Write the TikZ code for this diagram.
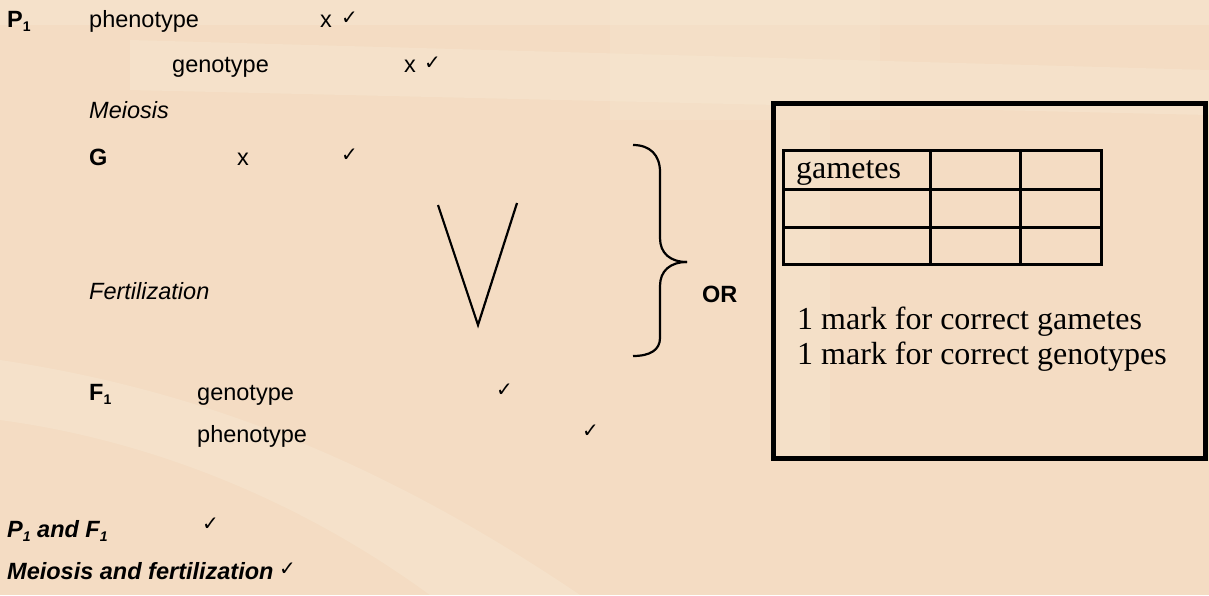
\documentclass[tikz,border=0pt]{standalone}
\usepackage{fontspec}
\setmainfont{Liberation Sans}
\newfontfamily\tms{Liberation Serif}
\newfontfamily\djv{DejaVu Sans}
\definecolor{bgpeach}{HTML}{F4DCC3}
\definecolor{bglight}{HTML}{F7EDD8}
\newcommand{\ck}{{\djv\fontsize{20}{20}\selectfont ✓}}
\newcommand{\sub}[1]{\raisebox{-4.5pt}{\fontsize{14}{14}\selectfont #1}}
\begin{document}
\begin{tikzpicture}[x=1pt,y=-1pt,
  txt/.style={anchor=base west,inner sep=0pt,font=\fontsize{23.5}{27}\selectfont},
  bt/.style={txt,font=\fontsize{23.5}{27}\selectfont\bfseries},
  it/.style={txt,font=\fontsize{23.5}{27}\selectfont\itshape},
  bit/.style={txt,font=\fontsize{23.5}{27}\selectfont\bfseries\itshape},
  tm/.style={anchor=base west,inner sep=0pt,font=\tms\fontsize{32}{36}\selectfont},
  ckn/.style={anchor=base west,inner sep=0pt},
  ln/.style={line width=2.2pt,black},
  tbl/.style={line width=3pt,black}]
\useasboundingbox (0,0) rectangle (1209,595);
% background
\fill[bgpeach] (0,0) rectangle (1209,595);
\fill[bglight,opacity=0.35] (0,0) rectangle (1209,25);
\fill[bglight,opacity=0.35] (130,40) -- (1209,70) -- (1209,115) -- (130,90) -- cycle;
\fill[bglight,opacity=0.2] (610,0) rectangle (880,120);
\fill[bglight,opacity=0.35] (0,360) .. controls (200,390) and (380,460) .. (580,595) -- (430,595) .. controls (300,500) and (150,440) .. (0,420) -- cycle;
\fill[bglight,opacity=0.25] (780,120) rectangle (830,460);
% left column texts
\node[bt] (p1) at (7,27) {P\sub{1}};
\node[txt] (pheno1) at (89,27) {phenotype};
\node[txt] (x1) at (320,27) {x};
\node[ckn] (c1) at (341,24) {\ck};
\node[txt] (geno1) at (172,72) {genotype};
\node[txt] (x2) at (404,72) {x};
\node[ckn] (c2) at (424,69) {\ck};
\node[it] (mei) at (89,118) {Meiosis};
\node[bt] (g) at (89,165) {G};
\node[txt] (x3) at (237,165) {x};
\node[ckn] (c3) at (341,161) {\ck};
\node[it] (fert) at (89,299) {Fertilization};
\node[bt] (f1) at (89,400) {F\sub{1}};
\node[txt] (geno2) at (197,400) {genotype};
\node[ckn] (c4) at (496,396) {\ck};
\node[txt] (pheno2) at (197,442) {phenotype};
\node[ckn] (c5) at (582,437) {\ck};
\node[bit] (pf) at (7,537) {P\sub{1} and F\sub{1}};
\node[ckn] (c6) at (202,530) {\ck};
\node[bit] (mf) at (7,579) {Meiosis and fertilization};
\node[ckn] (c7) at (279,575) {\ck};
% V
\coordinate (va) at (438,205);
\coordinate (vb) at (478,325);
\coordinate (vc) at (517,203);
\draw[ln,line join=miter] (va) -- (vb) -- (vc);
% brace
\coordinate (bt1) at (633,145);
\coordinate (btip) at (687,262);
\coordinate (bb1) at (633,356);
\draw[ln] (bt1) .. controls (650,145) and (660,155) .. (660,172) -- (660,238) .. controls (660,253) and (670,262) .. (btip);
\draw[ln] (btip) .. controls (670,262) and (660,271) .. (660,286) -- (660,338) .. controls (660,350) and (650,356) .. (bb1);
\node[bt] (or) at (702,302) {OR};
% right box
\draw[line width=5pt,black] (773,103) rectangle (1205,458);
\draw[tbl] (783,150) rectangle (1101,264);
\draw[tbl] (783,189) -- (1101,189);
\draw[tbl] (783,227) -- (1101,227);
\draw[tbl] (930,150) -- (930,264);
\draw[tbl] (1020,150) -- (1020,264);
\node[tm] (gam) at (796,178) {gametes};
\node[tm] (m1) at (797,329) {1 mark for correct gametes};
\node[tm] (m2) at (797,364) {1 mark for correct genotypes};
\end{tikzpicture}
\end{document}
